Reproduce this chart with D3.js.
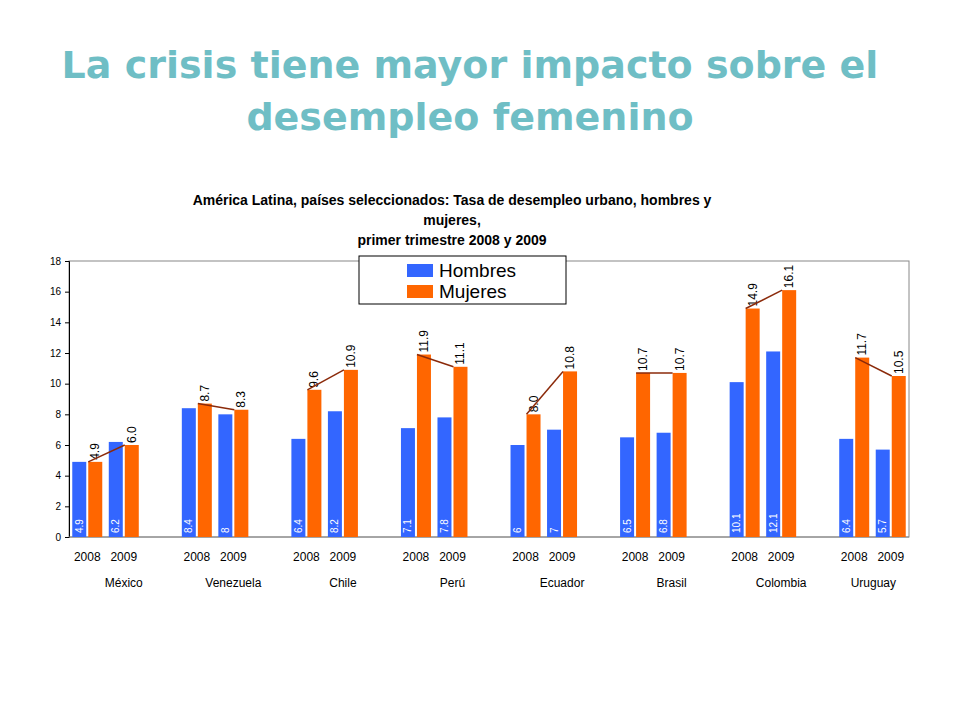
<!DOCTYPE html>
<html lang="es">
<head>
<meta charset="UTF-8">
<title>Desempleo urbano, hombres y mujeres</title>
<style>
  body { margin: 0; background: #fff; }
  svg { display: block; font-family: "Liberation Sans", Arial, sans-serif; }
  .title { font-family: "DejaVu Sans", Verdana, sans-serif; font-weight: bold; fill: #6fbec5; }
  .ctitle { font-weight: bold; font-size: 14px; fill: #000; }
  .tick text { font-size: 10px; fill: #000; }
</style>
</head>
<body>
<svg width="960" height="720"></svg>
<script src="https://d3js.org/d3.v7.min.js"></script>
<script>
// data
const countries = ["México", "Venezuela", "Chile", "Perú", "Ecuador", "Brasil", "Colombia", "Uruguay"];
const years = ["2008", "2009"];
const hombres = [[4.9, 6.2], [8.4, 8], [6.4, 8.2], [7.1, 7.8], [6, 7], [6.5, 6.8], [10.1, 12.1], [6.4, 5.7]];
const mujeres = [[4.9, 6.0], [8.7, 8.3], [9.6, 10.9], [11.9, 11.1], [8.0, 10.8], [10.7, 10.7], [14.9, 16.1], [11.7, 10.5]];
const yTicks = [0, 2, 4, 6, 8, 10, 12, 14, 16, 18];

const svg = d3.select("svg");
const blue = "#3366ff", orange = "#ff6600", lineCol = "#8b2a0a";

// slide title
svg.append("text").attr("class", "title").attr("x", 470).attr("y", 78)
  .attr("text-anchor", "middle").style("font-size", "38px")
  .text("La crisis tiene mayor impacto sobre el");
svg.append("text").attr("class", "title").attr("x", 470).attr("y", 130)
  .attr("text-anchor", "middle").style("font-size", "38px")
  .text("desempleo femenino");

// chart title
const ct = ["América Latina, países seleccionados: Tasa de desempleo urbano, hombres y",
            "mujeres,", "primer trimestre 2008 y 2009"];
svg.selectAll("text.ctitle").data(ct).enter().append("text").attr("class", "ctitle")
  .attr("x", 452).attr("y", (d, i) => 205 + i * 20)
  .attr("text-anchor", "middle").text(d => d);

// one slot per year, blank slot between countries
const slots = [];
countries.forEach((c, ci) => {
  years.forEach((yr, yi) => slots.push({key: c + yr, c: ci, y: yi}));
  if (ci < countries.length - 1) slots.push({key: "gap" + ci, gap: true});
});

const pl = 69, pr = 909, pt = 261, pb = 537;
const x = d3.scaleBand().domain(slots.map(d => d.key)).range([pl, pr]).padding(0);
const y = d3.scaleLinear().domain([0, 18]).range([pb, pt]);
const bw = 14, gapIn = 2;
const off = (x.bandwidth() - 2 * bw - gapIn) / 2;

// plot frame
svg.append("rect").attr("x", pl).attr("y", pt).attr("width", pr - pl).attr("height", pb - pt)
  .attr("fill", "none").attr("stroke", "#888").attr("stroke-width", 1);

const yAxis = svg.append("g").attr("transform", `translate(${pl},0)`)
  .call(d3.axisLeft(y).tickValues(yTicks).tickSize(4).tickPadding(4));
yAxis.select(".domain").attr("stroke", "#000");
yAxis.selectAll(".tick line").attr("stroke", "#000");
svg.append("line").attr("x1", pl).attr("x2", pr).attr("y1", pb).attr("y2", pb)
  .attr("stroke", "#888");

const data = slots.filter(d => !d.gap);

// bars
const g = svg.append("g");
g.selectAll("rect.h").data(data).enter().append("rect")
  .attr("x", d => x(d.key) + off).attr("width", bw)
  .attr("y", d => y(hombres[d.c][d.y])).attr("height", d => pb - y(hombres[d.c][d.y]))
  .attr("fill", blue);
g.selectAll("rect.m").data(data).enter().append("rect")
  .attr("x", d => x(d.key) + off + bw + gapIn).attr("width", bw)
  .attr("y", d => y(mujeres[d.c][d.y])).attr("height", d => pb - y(mujeres[d.c][d.y]))
  .attr("fill", orange);

// lines between orange tops
countries.forEach((c, ci) => {
  const p = years.map((yr, yi) => [x(c + yr) + off + bw + gapIn, y(mujeres[ci][yi])]);
  svg.append("path").attr("d", d3.line()(p)).attr("stroke", lineCol)
    .attr("stroke-width", 1.5).attr("fill", "none");
});

// value labels
g.selectAll("text.hv").data(data).enter().append("text")
  .attr("transform", d => `translate(${x(d.key) + off + bw / 2 + 3.5},${pb - 4}) rotate(-90)`)
  .style("font-size", "10px").attr("fill", "#fff")
  .text(d => String(hombres[d.c][d.y]));
g.selectAll("text.mv").data(data).enter().append("text")
  .attr("transform", d => `translate(${x(d.key) + off + bw + gapIn + bw / 2 + 4},${y(mujeres[d.c][d.y]) - 2}) rotate(-90)`)
  .style("font-size", "12px").attr("fill", "#000")
  .text(d => mujeres[d.c][d.y].toFixed(1));

// category labels
g.selectAll("text.yr").data(data).enter().append("text")
  .attr("x", d => x(d.key) + x.bandwidth() / 2).attr("y", 561)
  .attr("text-anchor", "middle").style("font-size", "12px").text(d => years[d.y]);
g.selectAll("text.ct").data(data.filter(d => d.y === 1)).enter().append("text")
  .attr("x", d => x(d.key) + x.bandwidth() / 2).attr("y", 587)
  .attr("text-anchor", "middle").style("font-size", "12px").text(d => countries[d.c])
  .each(function () {
    // keep the label inside the plot width, like the original
    const b = this.getBBox();
    const maxRight = pr - 13;
    if (b.x + b.width > maxRight) d3.select(this).attr("x", maxRight - b.width / 2);
  });

// legend
const lg = svg.append("g").attr("transform", "translate(359,256)");
lg.append("rect").attr("width", 207).attr("height", 48).attr("fill", "#fff")
  .attr("stroke", "#000").attr("stroke-width", 1);
[["Hombres", blue], ["Mujeres", orange]].forEach(([n, col], i) => {
  lg.append("rect").attr("x", 48).attr("y", 8 + i * 21).attr("width", 26).attr("height", 13).attr("fill", col);
  lg.append("text").attr("x", 80).attr("y", 21 + i * 21).style("font-size", "19px").text(n);
});
</script>
</body>
</html>
